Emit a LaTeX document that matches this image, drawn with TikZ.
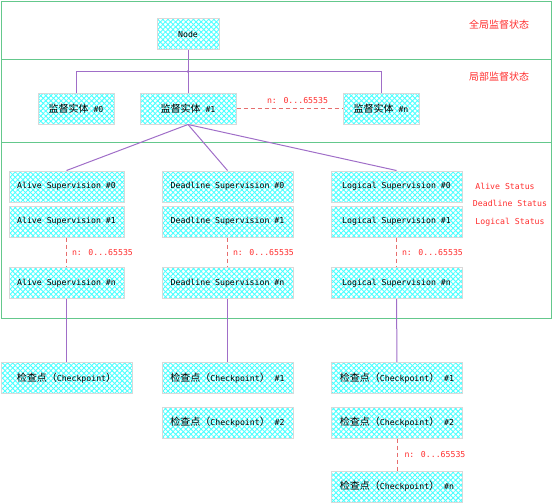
\documentclass[tikz,border=0pt]{standalone}
\usepackage{fontspec}
\setmainfont{DejaVu Sans Mono}
\newfontfamily\cjk{Noto Sans CJK SC}
\usetikzlibrary{patterns.meta}

\definecolor{bandgreen}{RGB}{100,200,140}
\definecolor{lilac}{RGB}{160,110,200}
\definecolor{alarm}{RGB}{255,45,45}
\definecolor{dashred}{RGB}{230,110,110}

\tikzset{
    box/.style={draw=black!15, line width=1pt, minimum height=31pt, inner sep=0pt,
        font=\fontsize{8.2}{10}\selectfont,
        preaction={fill=white},
        preaction={pattern={Lines[angle=45,distance=3.6pt,line width=0.9pt]}, pattern color=cyan!70},
        pattern={Lines[angle=-45,distance=3.6pt,line width=0.9pt]}, pattern color=cyan!70},
    band/.style={draw=bandgreen, line width=1pt},
    link/.style={draw=lilac, line width=1pt},
    multi/.style={draw=dashred, line width=1pt, dash pattern=on 4pt off 3pt},
    count/.style={text=alarm, font=\fontsize{8.2}{10}\selectfont, inner sep=1pt},
    state/.style={text=alarm, font=\fontsize{8.2}{10}\selectfont},
    level/.style={text=alarm, font=\cjk\fontsize{10}{12}\selectfont},
}
\newcommand\zh[1]{{\cjk\fontsize{10}{12}\selectfont #1}}

\begin{document}
\begin{tikzpicture}[x=1pt,y=-1pt]
\useasboundingbox (0,0) rectangle (553,503);

\draw[band] (1.5,1.5) rectangle (551.5,59.5);
\draw[band] (1.5,59.5) rectangle (551.5,142.5);
\draw[band] (1.5,142.5) rectangle (551.5,318.5);

\node[level] (global) at (499,25) {全局监督状态};
\node[level] (local) at (499,77) {局部监督状态};

\node[box, minimum width=62pt] (node) at (188,34) {Node};
\node[box, minimum width=76pt] (ent0) at (76,108.5) {\zh{监督实体} \#0};
\node[box, minimum width=96pt] (ent1) at (188,108.5) {\zh{监督实体} \#1};
\node[box, minimum width=76pt] (entn) at (381,108.5) {\zh{监督实体} \#n};
\coordinate (bus) at (188,71.5);

\draw[link] (node) -- (ent1);
\draw[link] (ent0.north) |- (bus) -| (entn.north);
\fill[lilac] (bus) circle (1.5);
\draw[multi] (ent1) -- node[count, above=3pt, xshift=8pt] {n: 0...65535} (entn);

\foreach \name/\kind/\x/\w in {alive/Alive/66.5/115, dead/Deadline/227.5/131, logic/Logical/396.5/131} {
    \node[box, minimum width=\w pt] (\name0) at (\x,186.5) {\kind{} Supervision \#0};
    \node[box, minimum width=\w pt] (\name1) at (\x,221.5) {\kind{} Supervision \#1};
    \node[box, minimum width=\w pt] (\name n) at (\x,283) {\kind{} Supervision \#n};
    \draw[link] (ent1.south) -- (\name0.north);
    \draw[multi] (\name1) -- node[count, right=4pt] {n: 0...65535} (\name n);
}

\node[state] (alivestate) at (505,186) {Alive Status};
\node[state] (deadstate) at (510,203) {Deadline Status};
\node[state] (logicstate) at (510,222) {Logical Status};

\node[box, minimum width=131pt] (cpA) at (66.5,378) {\zh{检查点（}Checkpoint\zh{）}};
\node[box, minimum width=131pt] (cpB1) at (227.5,378) {\zh{检查点（}Checkpoint\zh{）} \#1};
\node[box, minimum width=131pt] (cpB2) at (227.5,422.5) {\zh{检查点（}Checkpoint\zh{）} \#2};
\node[box, minimum width=131pt] (cpC1) at (397,378) {\zh{检查点（}Checkpoint\zh{）} \#1};
\node[box, minimum width=131pt] (cpC2) at (397,422.5) {\zh{检查点（}Checkpoint\zh{）} \#2};
\node[box, minimum width=131pt] (cpCn) at (397,486.5) {\zh{检查点（}Checkpoint\zh{）} \#n};

\draw[link] (aliven) -- (cpA);
\draw[link] (deadn) -- (cpB1);
\draw[link] (logicn) -- (cpC1);
\draw[multi] (cpC2) -- node[count, right=6pt] {n: 0...65535} (cpCn);
\end{tikzpicture}
\end{document}
